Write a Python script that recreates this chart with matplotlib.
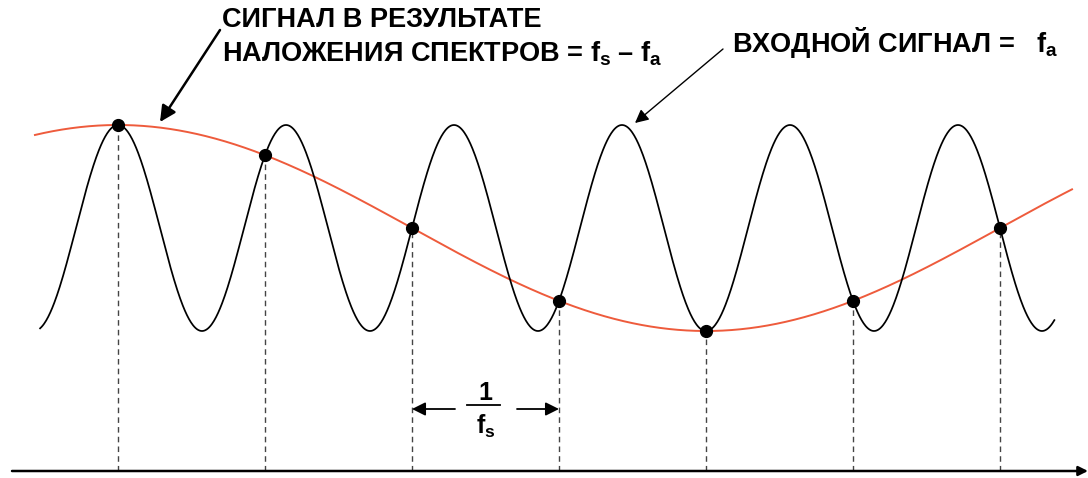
import numpy as np
import matplotlib
matplotlib.use('Agg')
import matplotlib.pyplot as plt

# picture size in pixels
W, H = 1088, 478

# sampling: sample instants (in units of 1/f_s) and frequencies
sample_index = [0, 1, 2, 3, 4, 5, 6]
f_s = 8          # sampling frequency
f_a = 7          # input frequency
input_span = (-0.53, 6.37)    # drawn range of the input signal
alias_span = (-0.565, 6.49)   # drawn range of the aliased signal

label_alias = ['СИГНАЛ В РЕЗУЛЬТАТЕ', 'НАЛОЖЕНИЯ СПЕКТРОВ = $f_s$ – $f_a$']
label_input = 'ВХОДНОЙ СИГНАЛ =   $f_a$'

plt.rcParams['font.family'] = ['Liberation Sans', 'DejaVu Sans']
plt.rcParams['font.weight'] = 'bold'
plt.rcParams['mathtext.fontset'] = 'custom'
plt.rcParams['mathtext.rm'] = 'Liberation Sans:bold'
plt.rcParams['mathtext.it'] = 'Liberation Sans:bold'
plt.rcParams['mathtext.bf'] = 'Liberation Sans:bold'

# pixel layout of the scale: t=0 at x=118 px, 147 px per sample; v=0 at y=228 px, 103 px per unit
x0, dx = 118, 147
y0, dy = 228, 103


def to_t(xp):
    return (xp - x0) / dx


def to_v(yp):
    return (y0 - yp) / dy


def fig_px(xp, yp):
    return (xp / W, 1 - yp / H)


fig = plt.figure(figsize=(W / 100, H / 100), dpi=100)
ax = fig.add_axes([0, 0, 1, 1])
ax.set_xlim(to_t(0), to_t(W))
ax.set_ylim(to_v(H), to_v(0))
ax.axis('off')

t_in = np.linspace(*input_span, 1500)
t_al = np.linspace(*alias_span, 1500)
v_in = np.cos(2 * np.pi * f_a / f_s * t_in)
v_al = np.cos(2 * np.pi * (f_s - f_a) / f_s * t_al)
samples = np.array(sample_index, dtype=float)
v_samp = np.cos(2 * np.pi * (f_s - f_a) / f_s * samples)

ax.plot(t_al, v_al, color='#ee5b3c', lw=1.4, zorder=2)
ax.plot(t_in, v_in, color='black', lw=1.25, zorder=3)

v_axis = to_v(471)
ax.vlines(samples, v_axis, v_samp, colors='#444444', linestyles=(0, (4, 3)), lw=1.0, zorder=1)
ax.plot(samples, v_samp, 'o', ms=8.5, color='black', zorder=5)

# time axis
ax.annotate('', xy=(to_t(1088), v_axis), xytext=(to_t(12), v_axis),
            arrowprops=dict(arrowstyle='-|>', lw=1.8, color='black', mutation_scale=14,
                            shrinkA=0, shrinkB=0))

# 1/f_s dimension
v_dim = to_v(409)
ax.annotate('', xy=(samples[2], v_dim), xytext=(to_t(455), v_dim),
            arrowprops=dict(arrowstyle='-|>', lw=1.3, color='black', mutation_scale=20,
                            shrinkA=0, shrinkB=0))
ax.annotate('', xy=(samples[3], v_dim), xytext=(to_t(517), v_dim),
            arrowprops=dict(arrowstyle='-|>', lw=1.3, color='black', mutation_scale=20,
                            shrinkA=0, shrinkB=0))
mid = (samples[2] + samples[3]) / 2
ax.text(mid, to_v(400), '1', ha='center', va='baseline', fontsize=18, fontweight='bold')
ax.plot([to_t(467), to_t(500)], [to_v(405), to_v(405)], color='black', lw=1.3)
ax.text(mid, to_v(434), '$f_s$', ha='center', va='baseline', fontsize=18)

# labels
fig.text(*fig_px(222, 27), label_alias[0], fontsize=19.5, fontweight='bold', va='baseline')
fig.text(*fig_px(222, 62), label_alias[1], fontsize=19.5, fontweight='bold', va='baseline')
fig.text(*fig_px(732, 52), label_input, fontsize=19.5, fontweight='bold', va='baseline')

ax.annotate('', xy=fig_px(160, 122), xytext=fig_px(220, 30), xycoords='figure fraction',
            textcoords='figure fraction',
            arrowprops=dict(arrowstyle='-|>', lw=1.8, color='black', mutation_scale=24,
                            shrinkA=0, shrinkB=0))
ax.annotate('', xy=fig_px(635, 123), xytext=fig_px(723, 49), xycoords='figure fraction',
            textcoords='figure fraction',
            arrowprops=dict(arrowstyle='-|>', lw=1.0, color='black', mutation_scale=20,
                            shrinkA=0, shrinkB=0))

fig.savefig('out.png', dpi=100)
